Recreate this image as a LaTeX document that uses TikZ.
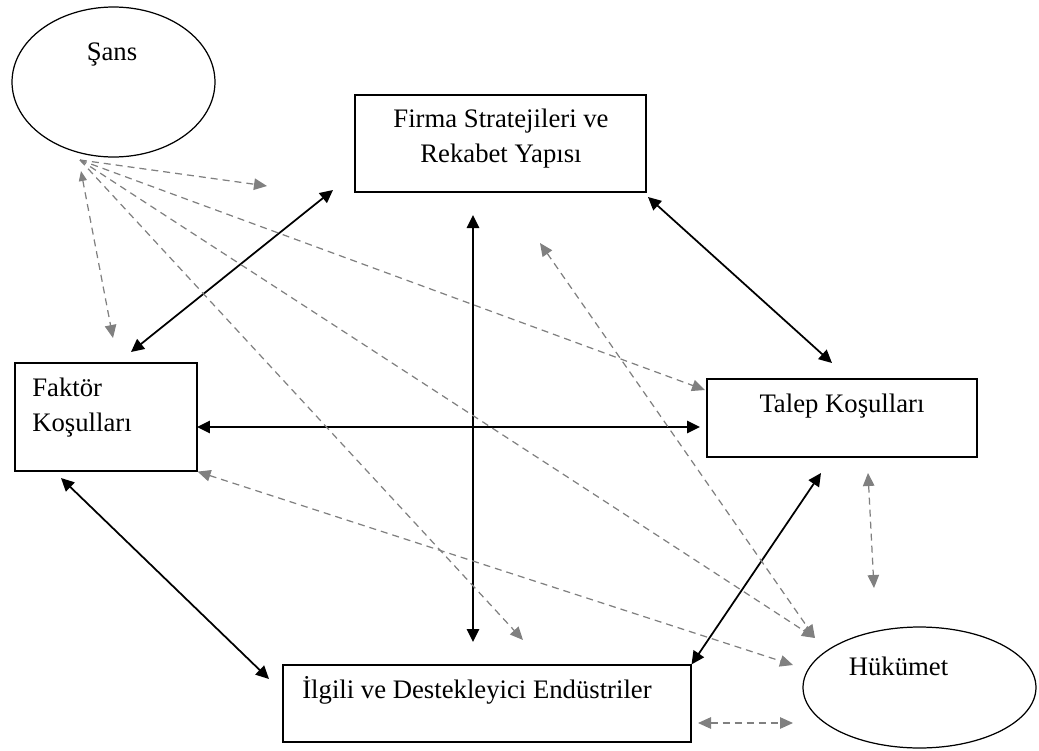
\documentclass[tikz,border=0pt]{standalone}
\usepackage{fontspec}
\setmainfont{Liberation Serif}
\usetikzlibrary{positioning,shapes.geometric,arrows.meta}

\begin{document}
\begin{tikzpicture}[x=0.02cm,y=-0.02cm,
    block/.style={draw, rectangle, line width=0.7pt, inner sep=0pt},
    oval/.style={draw, ellipse, line width=0.7pt, inner sep=0pt},
    lbl/.style={inner sep=0pt, font=\fontsize{15.2}{19.8}\selectfont},
    link/.style={{Triangle[length=0.26cm,width=0.25cm]}-{Triangle[length=0.26cm,width=0.25cm]}, line width=1pt},
    infl/.style={-{Triangle[length=0.26cm,width=0.23cm]}, gray, dash pattern=on 0.14cm off 0.1cm, line width=0.7pt}]
    \useasboundingbox (0,0) rectangle (1039,751);
    % blocks
    \node[oval, minimum width=4.06cm, minimum height=3cm] (sans) at (113.5,82) {};
    \node[block, minimum width=5.82cm, minimum height=1.94cm] (firma) at (500.5,143.5) {};
    \node[block, minimum width=3.64cm, minimum height=2.16cm] (faktor) at (106,417) {};
    \node[block, minimum width=5.4cm, minimum height=1.56cm] (talep) at (842,418) {};
    \node[block, minimum width=8.16cm, minimum height=1.54cm] (ilgili) at (487,703.5) {};
    \node[oval, minimum width=4.66cm, minimum height=2.42cm] (hukumet) at (919.5,687.5) {};
    % texts
    \node[lbl, anchor=base] (sanstxt) at (112,60) {Şans};
    \node[lbl, anchor=base, align=center] (firmatxt) at (501,162) {Firma Stratejileri ve\\Rekabet Yapısı};
    \node[lbl, anchor=base west, align=left] (faktortxt) at (32,431) {Faktör\\Koşulları};
    \node[lbl, anchor=base] (taleptxt) at (842,412) {Talep Koşulları};
    \node[lbl, anchor=base west] (ilgilitxt) at (302,698) {İlgili ve Destekleyici Endüstriler};
    \node[lbl, anchor=base] (hukumettxt) at (898.5,675) {Hükümet};
    % arrow ends
    \coordinate (faktorN) at (131,352);
    \coordinate (firmaSW) at (333,190);
    \coordinate (firmaSE) at (648,197);
    \coordinate (talepN) at (832,363);
    \coordinate (faktorE) at (197,427);
    \coordinate (talepW) at (700,427);
    \coordinate (eksenN) at (473,215);
    \coordinate (eksenS) at (473,642);
    \coordinate (faktorS) at (61,478);
    \coordinate (ilgiliNW) at (269,679);
    \coordinate (talepS) at (821,473);
    \coordinate (sansS) at (80,160);
    \coordinate (sansS2) at (81,171);
    \coordinate (firmaW) at (267,186);
    \coordinate (faktorNW) at (113,338);
    \coordinate (talepNW) at (705,390);
    \coordinate (ilgiliN) at (523,640);
    \coordinate (hukumetNW) at (815,638);
    \coordinate (firmaS) at (540,243);
    \coordinate (hukumetW) at (793,665);
    \coordinate (talepSE) at (868,473);
    \coordinate (hukumetN) at (874,588);
    \coordinate (ilgiliE) at (698,723);
    \coordinate (hukumetSW) at (793,723);
    % arrows
    \draw[link] (faktorN) -- (firmaSW);
    \draw[link] (firmaSE) -- (talepN);
    \draw[link] (faktorE) -- (talepW);
    \draw[link] (eksenN) -- (eksenS);
    \draw[link] (faktorS) -- (ilgiliNW);
    \draw[link] (ilgili.north east) -- (talepS);
    % influences, dashed
    \draw[infl] (sansS) -- (firmaW);
    \draw[infl, {Triangle[length=0.2cm,width=0.16cm]}-{Triangle[length=0.26cm,width=0.23cm]}] (sansS2) -- (faktorNW);
    \draw[infl] (sansS) -- (talepNW);
    \draw[infl] (sansS) -- (ilgiliN);
    \draw[infl] (sansS) -- (hukumetNW);
    \draw[infl, {Triangle[length=0.26cm,width=0.23cm]}-{Triangle[length=0.26cm,width=0.23cm]}] (firmaS) -- (hukumetNW);
    \draw[infl, {Triangle[length=0.26cm,width=0.23cm]}-{Triangle[length=0.26cm,width=0.23cm]}] (faktor.south east) -- (hukumetW);
    \draw[infl, {Triangle[length=0.26cm,width=0.23cm]}-{Triangle[length=0.26cm,width=0.23cm]}] (talepSE) -- (hukumetN);
    \draw[infl, {Triangle[length=0.26cm,width=0.23cm]}-{Triangle[length=0.26cm,width=0.23cm]}] (ilgiliE) -- (hukumetSW);
\end{tikzpicture}
\end{document}
